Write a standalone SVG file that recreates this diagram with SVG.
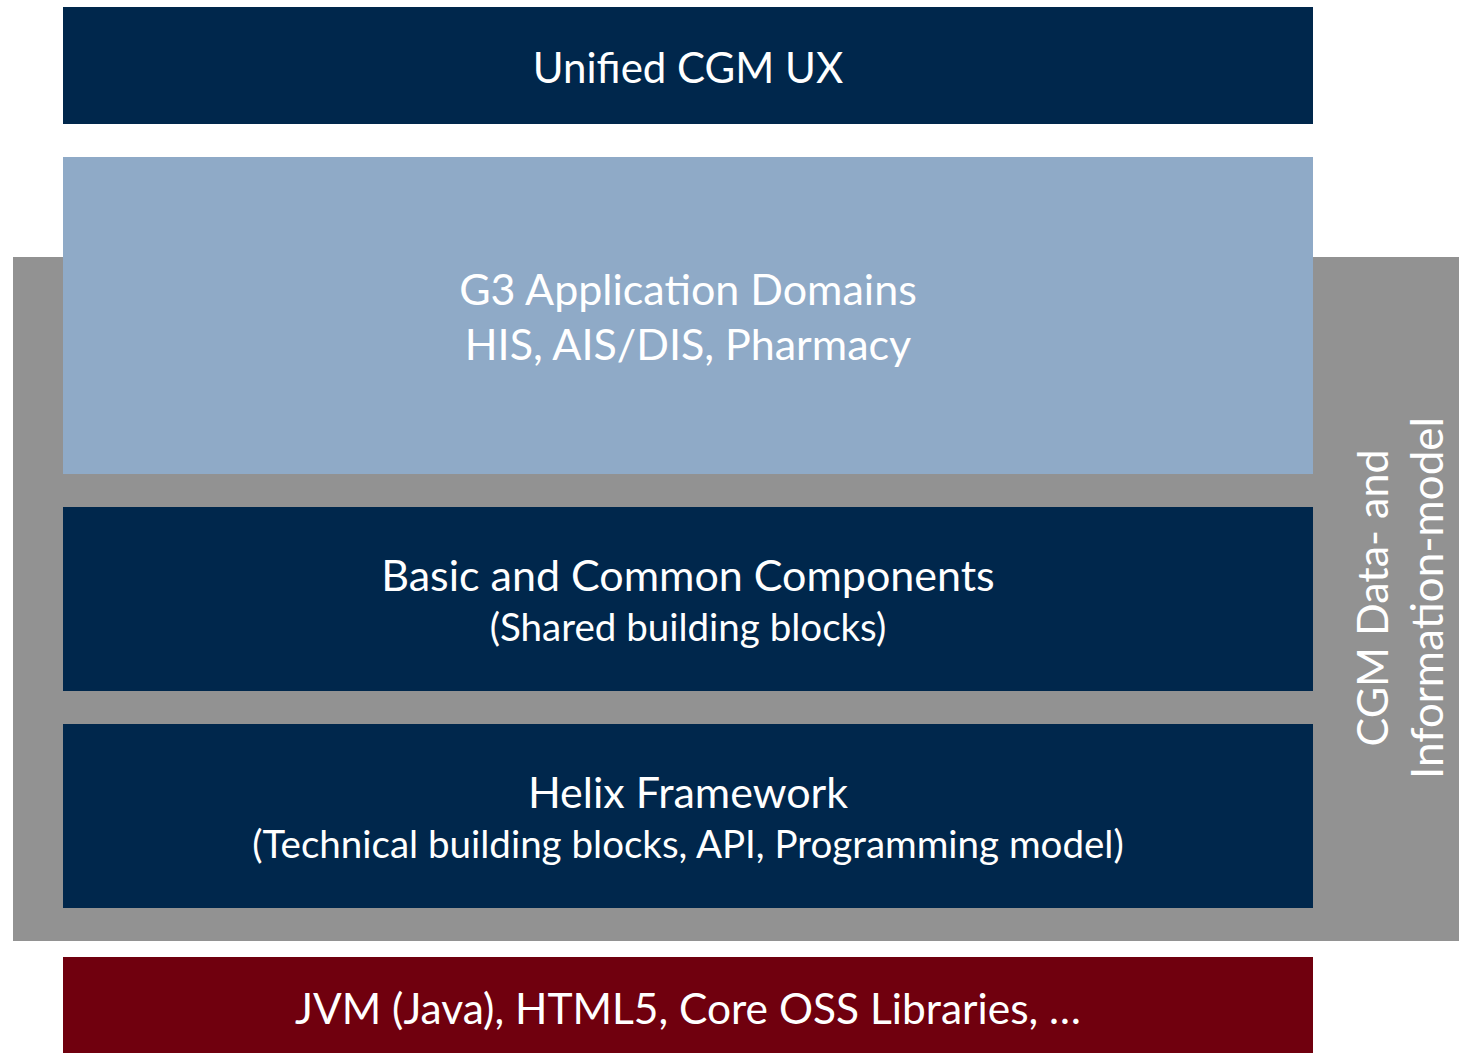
<svg xmlns="http://www.w3.org/2000/svg" width="1459" height="1053" viewBox="0 0 1459 1053">
<style>
.t{font-family:Lato,"Open Sans","Liberation Sans",sans-serif;fill:#ffffff;text-anchor:middle}
.big{font-size:43px}
.small{font-size:38.5px}
.navy{fill:#00274c}
</style>
<rect width="1459" height="1053" fill="#ffffff"/>
<g id="data-model">
<rect x="13" y="257" width="1446" height="684" fill="#929292"/>
<text class="t big" transform="translate(1388,598) rotate(-90)">CGM Data- and</text>
<text class="t big" transform="translate(1443,598) rotate(-90)" style="font-size:44px">Information-model</text>
</g>
<g id="ux">
<rect class="navy" x="63" y="7" width="1250" height="117"/>
<text class="t big" x="688" y="83" style="font-size:42px">Unified CGM UX</text>
</g>
<g id="g3">
<rect x="63" y="157" width="1250" height="317" fill="#8faac7"/>
<text class="t big" x="688" y="305">G3 Application Domains</text>
<text class="t big" x="688" y="360">HIS, AIS/DIS, Pharmacy</text>
</g>
<g id="basic">
<rect class="navy" x="63" y="507" width="1250" height="184"/>
<text class="t big" x="688" y="591">Basic and Common Components</text>
<text class="t small" x="688" y="641">(Shared building blocks)</text>
</g>
<g id="helix">
<rect class="navy" x="63" y="724" width="1250" height="184"/>
<text class="t big" x="688" y="808">Helix Framework</text>
<text class="t small" x="688" y="858">(Technical building blocks, API, Programming model)</text>
</g>
<g id="jvm">
<rect x="63" y="957" width="1250" height="96" fill="#70000e"/>
<text class="t big" x="688" y="1024" style="font-size:42.5px">JVM (Java), HTML5, Core OSS Libraries, …</text>
</g>
<g id="connectors"></g>
</svg>
